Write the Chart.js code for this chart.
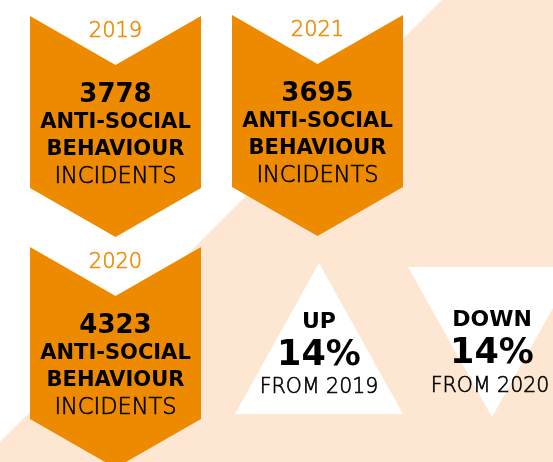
<!DOCTYPE html>
<html>
<head>
<meta charset="utf-8">
<script src="https://cdn.jsdelivr.net/npm/chart.js@4"></script>
<style>
  html, body { margin: 0; padding: 0; background: #ffffff; }
  #wrap { width: 553px; height: 462px; position: relative; }
</style>
</head>
<body>
<div id="wrap"><canvas id="infographic"></canvas></div>
<script>
// data
const years = ["2019", "2021", "2020"];
const incidents = [3778, 3695, 4323];
const labelBold = ["ANTI-SOCIAL", "BEHAVIOUR"];
const labelLight = "INCIDENTS";
const changeWord = ["UP", "DOWN"];
const changePct = [14, 14];
const changeFrom = ["FROM 2019", "FROM 2020"];

// layout (scale units = canvas pixels)
const arrowSlots = [{x: 115.5, y: 16}, {x: 317.5, y: 15}, {x: 115.5, y: 247}];
const triSlots = [{x: 319, y: 263}, {x: 492, y: 267}];

const ORANGE = "#ee8a00";
const PEACH = "#fde7d2";
const FONT = "'DejaVu Sans', sans-serif";

function px(chart, x, y) {
    return [chart.scales.x.getPixelForValue(x), chart.scales.y.getPixelForValue(y)];
}

// light text is a bit thin, thicken it with a hairline stroke
function lightText(ctx, text, x, y, size, color) {
    ctx.font = "200 " + size + "px " + FONT;
    ctx.fillStyle = color;
    ctx.strokeStyle = color;
    ctx.lineWidth = 0.6;
    ctx.fillText(text, x, y);
    ctx.strokeText(text, x, y);
}

const infographicPlugin = {
    id: "infographic",
    beforeDatasetsDraw(chart) {
        const ctx = chart.ctx;
        ctx.save();

        // peach background below the diagonal
        ctx.fillStyle = PEACH;
        ctx.beginPath();
        [[442, 0], [553, 0], [553, 462], [0, 462], [0, 442]].forEach((p, i) => {
            const [a, b] = px(chart, p[0], p[1]);
            i ? ctx.lineTo(a, b) : ctx.moveTo(a, b);
        });
        ctx.closePath();
        ctx.fill();

        ctx.textAlign = "center";
        ctx.textBaseline = "alphabetic";

        // chevrons
        const arrowMeta = chart.getDatasetMeta(0);
        arrowMeta.data.forEach((pt, i) => {
            const cx = pt.x, top = pt.y;
            const hw = 85.5, notch = 49, side = 172;
            ctx.fillStyle = ORANGE;
            ctx.beginPath();
            ctx.moveTo(cx - hw, top);
            ctx.lineTo(cx, top + notch);
            ctx.lineTo(cx + hw, top);
            ctx.lineTo(cx + hw, top + side);
            ctx.lineTo(cx, top + side + notch);
            ctx.lineTo(cx - hw, top + side);
            ctx.closePath();
            ctx.fill();

            lightText(ctx, years[i], cx, top + 21, 21, ORANGE);

            ctx.fillStyle = "#000";
            ctx.font = "bold 26px " + FONT;
            ctx.fillText(String(incidents[i]), cx, top + 86);
            ctx.font = "bold 21px " + FONT;
            ctx.fillText(labelBold[0], cx, top + 112);
            ctx.fillText(labelBold[1], cx, top + 139);
            lightText(ctx, labelLight, cx, top + 167, 22.5, "#000");
        });

        // up / down triangles
        const triMeta = chart.getDatasetMeta(1);
        triMeta.data.forEach((pt, i) => {
            const cx = pt.x, top = pt.y;
            const hw = 84, h = 151;
            ctx.fillStyle = "#ffffff";
            ctx.beginPath();
            if (i === 0) {
                ctx.moveTo(cx, top);
                ctx.lineTo(cx + hw, top + h);
                ctx.lineTo(cx - hw, top + h);
            } else {
                ctx.moveTo(cx - hw, top);
                ctx.lineTo(cx + hw, top);
                ctx.lineTo(cx, top + h - 1);
            }
            ctx.closePath();
            ctx.fill();

            ctx.fillStyle = "#000";
            ctx.font = "bold 22px " + FONT;
            ctx.fillText(changeWord[i], cx, i ? 326 : 328);
            ctx.font = "bold 35px " + FONT;
            ctx.fillText(changePct[i] + "%", cx, i ? 363 : 365);
            lightText(ctx, changeFrom[i], cx - (i ? 2 : 0), i ? 392 : 393, 20.5, "#000");
        });

        ctx.restore();
    }
};

new Chart(document.getElementById("infographic"), {
    type: "scatter",
    data: {
        datasets: [
            {
                label: "Incidents",
                data: arrowSlots.map((s, i) => ({x: s.x, y: s.y, v: incidents[i]})),
                pointRadius: 0
            },
            {
                label: "Change",
                data: triSlots.map((s, i) => ({x: s.x, y: s.y, v: changePct[i]})),
                pointRadius: 0
            }
        ]
    },
    options: {
        responsive: true,
        maintainAspectRatio: false,
        animation: false,
        layout: { padding: 0 },
        plugins: {
            legend: { display: false },
            tooltip: { enabled: false }
        },
        scales: {
            x: { type: "linear", min: 0, max: 553, display: false },
            y: { type: "linear", min: 0, max: 462, reverse: true, display: false }
        }
    },
    plugins: [infographicPlugin]
});
</script>
</body>
</html>
